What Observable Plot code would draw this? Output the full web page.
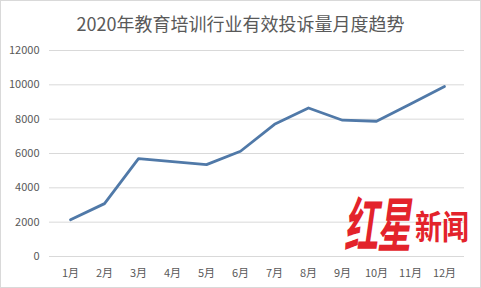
<!DOCTYPE html>
<html>
<head>
<meta charset="utf-8">
<script src="https://cdn.jsdelivr.net/npm/d3@7"></script>
<script src="https://cdn.jsdelivr.net/npm/@observablehq/plot@0.6"></script>
<style>
  html, body { margin: 0; padding: 0; background: #fff; }
  #wrap { position: relative; width: 481px; height: 288px; box-sizing: border-box; border: 1px solid #d9d9d9; overflow: hidden; font-family: "Noto Sans CJK SC", "Noto Sans", sans-serif; }
  #title { position: absolute; left: 0; top: 8px; width: 100%; text-align: center; font-size: 18px; color: #595959; line-height: 28px; }
  #chart { position: absolute; left: -2px; top: 39px; }
  #wm1 { position: absolute; left: 343px; top: 190px; font-size: 34px; line-height: 36px; font-weight: bold; color: #e3232b; font-style: italic; letter-spacing: -1px; transform: scaleY(1.75); transform-origin: top left; white-space: nowrap; }
  #wm2 { position: absolute; left: 414px; top: 207px; font-size: 27px; line-height: 30px; font-weight: bold; color: #e3232b; transform: scaleY(1.2); transform-origin: top left; white-space: nowrap; }
</style>
</head>
<body>
<div id="wrap">
  <div id="title"></div>
  <div id="chart"></div>
  <div id="wm1">红星</div>
  <div id="wm2">新闻</div>
</div>
<script>
const title = "2020年教育培训行业有效投诉量月度趋势";
const months = ["1月","2月","3月","4月","5月","6月","7月","8月","9月","10月","11月","12月"];
const complaints = [2140, 3080, 5700, 5530, 5350, 6130, 7700, 8650, 7940, 7880, 8890, 9900];
const yTicks = [0, 2000, 4000, 6000, 8000, 10000, 12000];

document.getElementById("title").textContent = title;

const data = months.map((m, i) => ({month: m, value: complaints[i]}));

const chart = Plot.plot({
  width: 481,
  height: 248,
  marginTop: 10,
  marginBottom: 32,
  marginLeft: 50,
  marginRight: 16,
  style: { fontFamily: "\"Noto Sans CJK SC\", sans-serif", fontSize: "11px", color: "#595959", background: "transparent" },
  x: { type: "point", domain: months, padding: 0.5, label: null },
  y: { domain: [0, 12000], ticks: yTicks, label: null },
  marks: [
    Plot.ruleY(yTicks, { stroke: "#d9d9d9", strokeWidth: 1 }),
    Plot.axisY({ ticks: yTicks, tickSize: 0, tickPadding: 10, tickFormat: d => String(d), label: null, fill: "#595959" }),
    Plot.axisX({ tickSize: 0, tickPadding: 13, label: null, fill: "#595959" }),
    Plot.line(data, { x: "month", y: "value", stroke: "#5079a8", strokeWidth: 2.8, strokeLinejoin: "round", strokeLinecap: "round" })
  ]
});
document.getElementById("chart").appendChild(chart);
</script>
</body>
</html>
